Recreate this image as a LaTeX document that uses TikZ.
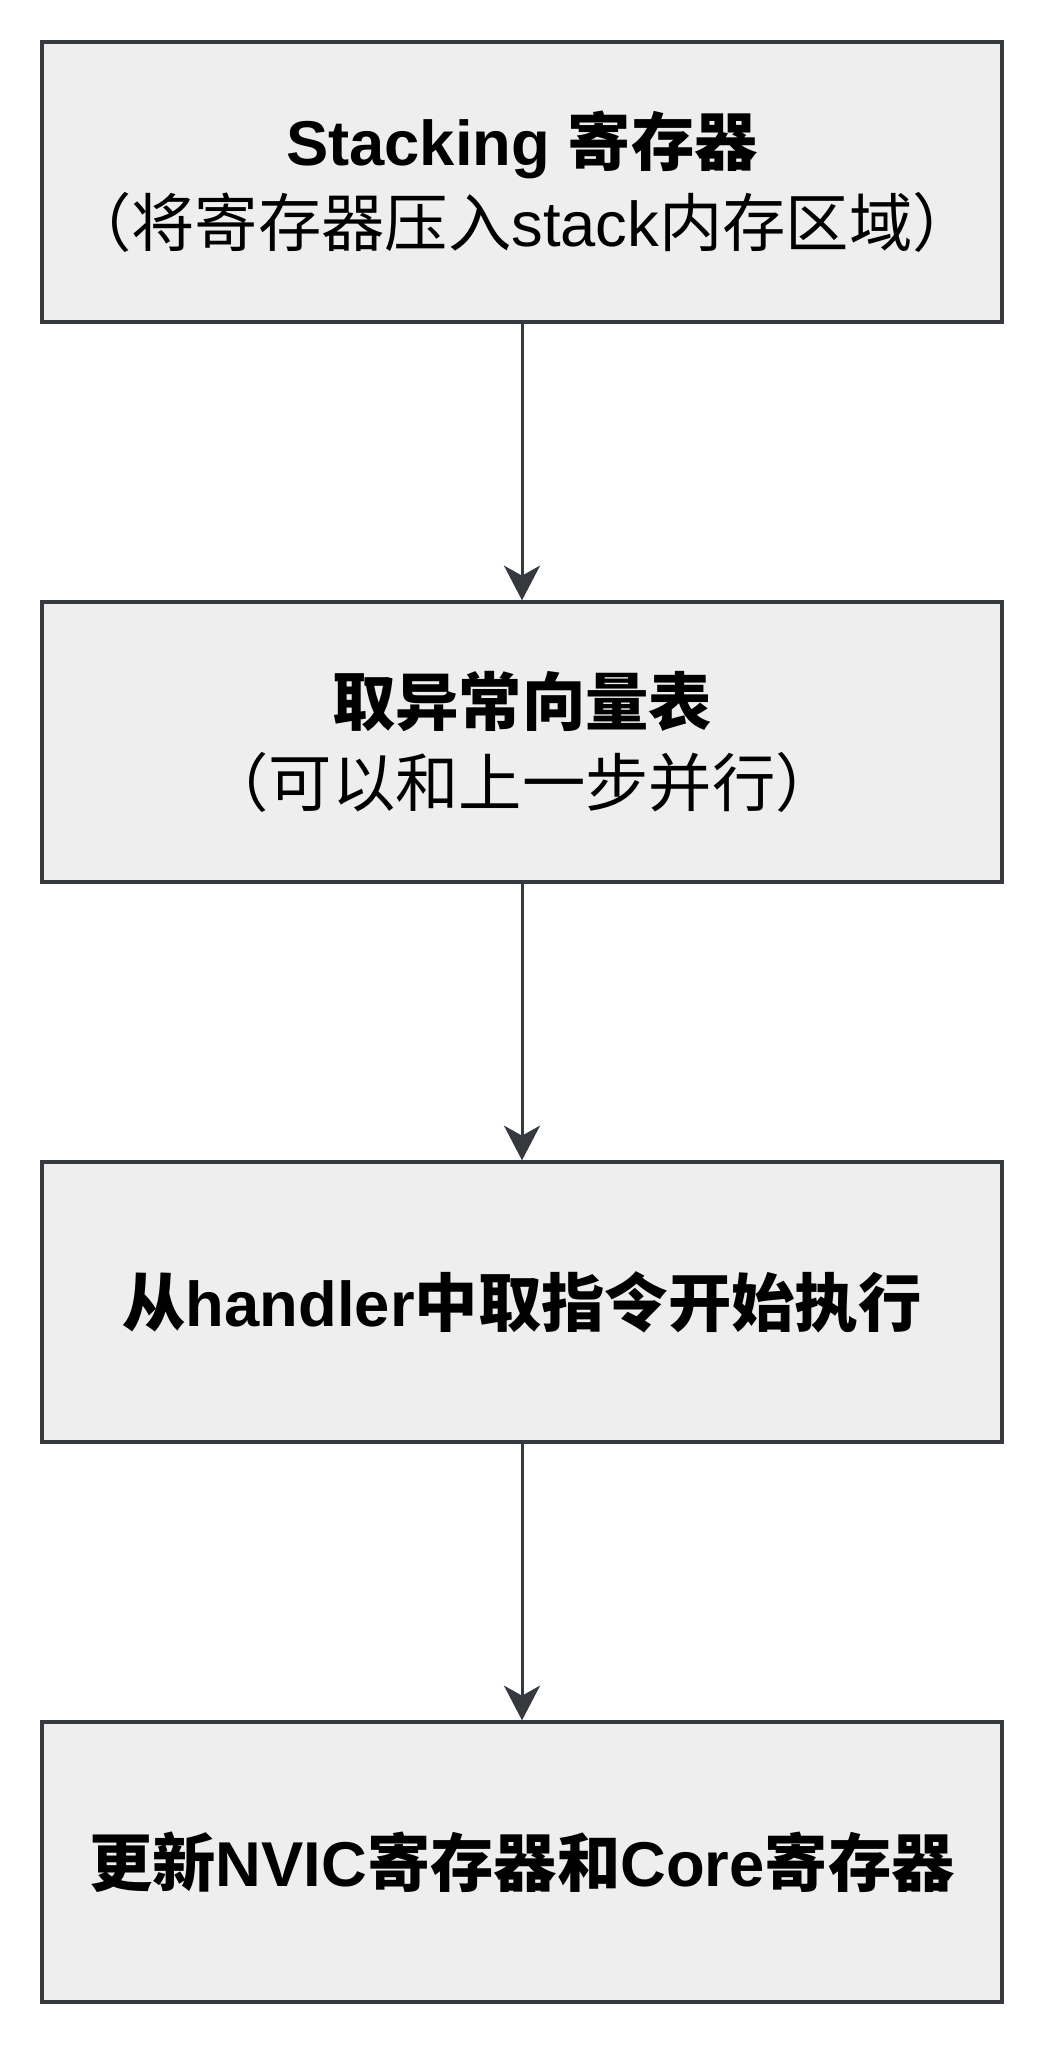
\documentclass[tikz,border=0pt]{standalone}
\usepackage{fontspec}
\setmainfont{Liberation Sans}
\newfontfamily\cjk{Noto Sans CJK SC}
\usetikzlibrary{arrows.meta}
\definecolor{boxfill}{HTML}{EEEEEE}
\definecolor{boxline}{HTML}{36393D}
\begin{document}
\begin{tikzpicture}[x=0.75pt,y=-0.75pt,
  box/.style={draw=boxline, fill=boxfill, line width=2.5pt, minimum width=720pt, minimum height=210pt, inner sep=0pt, align=center, font=\fontsize{47.5}{61}\selectfont},
  flow/.style={draw=boxline, line width=2.25pt, -{Stealth[length=26pt,width=27pt,inset=7.5pt]}}]
\useasboundingbox (0,0) rectangle (1048,2048);
\node[box] (b1) at (522,182) {{\bfseries Stacking {\cjk 寄存器}}\\{\cjk （将寄存器压入}stack{\cjk 内存区域）}};
\node[box] (b2) at (522,742) {{\bfseries\cjk 取异常向量表}\\{\cjk （可以和上一步并行）}};
\node[box] (b3) at (522,1302) {\bfseries{\cjk 从}handler{\cjk 中取指令开始执行}};
\node[box] (b4) at (522,1862) {\bfseries{\cjk 更新}NVIC{\cjk 寄存器和}Core{\cjk 寄存器}};
\draw[flow] (b1) -- (b2);
\draw[flow] (b2) -- (b3);
\draw[flow] (b3) -- (b4);
\end{tikzpicture}
\end{document}
